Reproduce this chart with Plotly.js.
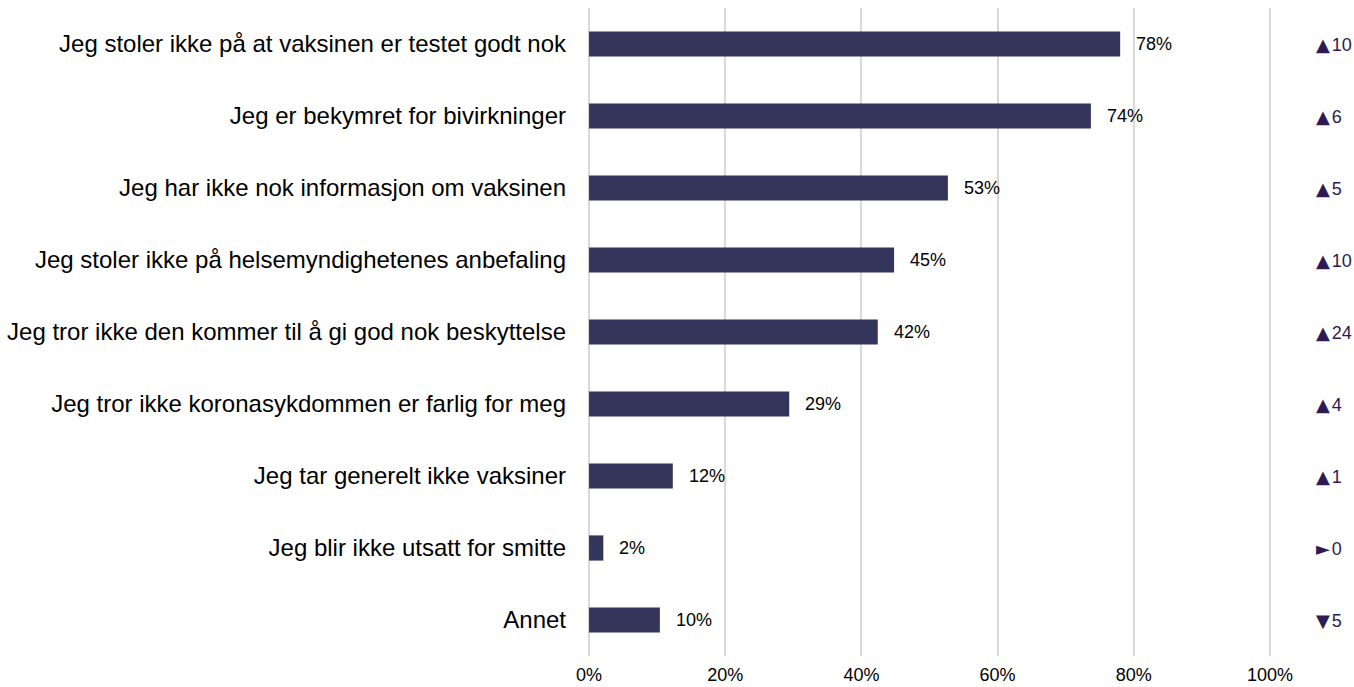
<!DOCTYPE html>
<html><head><meta charset="utf-8">
<script src="https://cdn.plot.ly/plotly-3.0.1.min.js"></script>
<style>html,body{margin:0;padding:0;background:#fff}#chart{width:1354px;height:687px}</style>
</head><body><div id="chart"></div>
<script>
const categories = [
  "Jeg stoler ikke på at vaksinen er testet godt nok",
  "Jeg er bekymret for bivirkninger",
  "Jeg har ikke nok informasjon om vaksinen",
  "Jeg stoler ikke på helsemyndighetenes anbefaling",
  "Jeg tror ikke den kommer til å gi god nok beskyttelse",
  "Jeg tror ikke koronasykdommen er farlig for meg",
  "Jeg tar generelt ikke vaksiner",
  "Jeg blir ikke utsatt for smitte",
  "Annet"
];
const values = [0.78, 0.737, 0.527, 0.448, 0.424, 0.294, 0.123, 0.021, 0.104];
const valueLabels = ["78%", "74%", "53%", "45%", "42%", "29%", "12%", "2%", "10%"];
const changeSymbols = ["▲", "▲", "▲", "▲", "▲", "▲", "▲", "►", "▼"];
const changeValues = ["10", "6", "5", "10", "24", "4", "1", "0", "5"];
const xTickVals = [0, 0.2, 0.4, 0.6, 0.8, 1.0];
const xTickText = ["0%", "20%", "40%", "60%", "80%", "100%"];

const font = "Liberation Sans, Arial, sans-serif";
const annotations = [];
categories.forEach((c, i) => {
  annotations.push({x: values[i], y: c, xref: 'x', yref: 'y', text: valueLabels[i],
    showarrow: false, xanchor: 'left', xshift: 14, font: {family: font, size: 18, color: '#000'}});
  annotations.push({x: 1.061, y: c, xref: 'paper', yref: 'y',
    text: '<span style="font-family:DejaVu Sans">' + changeSymbols[i] + '</span><span style="font-size:7px"> </span>' + changeValues[i],
    showarrow: false, xanchor: 'left', font: {family: font, size: 18, color: '#2e1a55'}});
});

Plotly.newPlot('chart', [{
  type: 'bar', orientation: 'h', x: values, y: categories,
  marker: {color: '#33355a'}, width: 0.35, hoverinfo: 'none'
}], {
  width: 1354, height: 687,
  margin: {l: 587, r: 82, t: 8, b: 31},
  paper_bgcolor: '#fff', plot_bgcolor: '#fff',
  showlegend: false,
  xaxis: {range: [-0.003, 1.003], tickvals: xTickVals, ticktext: xTickText,
    showgrid: true, gridcolor: '#d9d9d9', gridwidth: 2, zeroline: false,
    showline: false, ticks: '', ticklabelstandoff: 6, tickfont: {family: font, size: 18, color: '#000'}, fixedrange: true},
  yaxis: {type: 'category', autorange: 'reversed', showgrid: false, zeroline: false,
    ticks: '', ticklabelstandoff: 20, tickfont: {family: font, size: 24, color: '#000'}},
  annotations: annotations
}, {displayModeBar: false, staticPlot: true});
</script></body></html>
